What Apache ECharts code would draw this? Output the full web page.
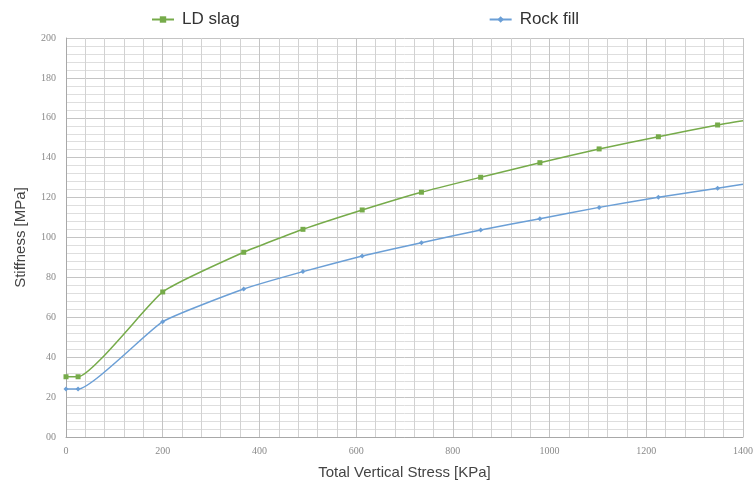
<!DOCTYPE html>
<html>
<head>
<meta charset="utf-8">
<script src="https://cdn.jsdelivr.net/npm/echarts@6/dist/echarts.min.js"></script>
<style>
  html, body { margin: 0; padding: 0; background: #fff; }
  #chart { width: 756px; height: 487px; }
</style>
</head>
<body>
<div id="chart"></div>
<script>
// stress values (KPa) where measurements were taken
const stress = [0, 25, 200, 367.5, 490, 612.5, 735, 857.5, 980, 1102.5, 1225, 1347.5, 1400];
const ldSlag = [30.2, 30.2, 72.7, 92.6, 104.1, 113.8, 122.7, 130.2, 137.5, 144.4, 150.5, 156.4, 158.5];
const rockFill = [24, 24, 57.8, 74.2, 82.9, 90.7, 97.4, 103.8, 109.4, 115.1, 120.2, 124.7, 126.7];
const seriesNames = ['LD slag', 'Rock fill'];

const GREEN = '#76ab4a';
const BLUE = '#6b9fd6';

// last point sits on the right edge, no marker there
const pairs = (ys) => stress.map((x, i) => i === stress.length - 1
  ? {value: [x, ys[i]], symbolSize: 0}
  : [x, ys[i]]);

const tickFont = {
  fontFamily: '"Liberation Serif", "DejaVu Serif", serif',
  fontSize: 10,
  color: '#8a8a8a',
};

const chart = echarts.init(document.getElementById('chart'));
chart.setOption({
  animation: false,
  legend: {
    top: 6,
    left: 146,
    itemGap: 249,
    itemWidth: 22,
    itemHeight: 8,
    textStyle: {
      fontFamily: 'Liberation Sans, Arial, sans-serif',
      fontSize: 17,
      color: '#333',
      padding: [0, 0, 0, 3],
    },
    data: seriesNames,
  },
  grid: {left: 66, right: 13, top: 38, bottom: 50},
  xAxis: {
    type: 'value',
    min: 0,
    max: 1400,
    interval: 200,
    name: 'Total Vertical Stress [KPa]',
    nameLocation: 'middle',
    nameGap: 28,
    nameTextStyle: {fontFamily: 'Liberation Sans, Arial, sans-serif', fontSize: 15, color: '#444'},
    axisLine: {show: true, lineStyle: {color: '#a8a8a8'}},
    axisTick: {show: false},
    axisLabel: Object.assign({margin: 9, formatter: (v) => String(v)}, tickFont),
    splitLine: {show: true, lineStyle: {color: '#c4c4c4', width: 1}},
    minorTick: {show: false, splitNumber: 5},
    minorSplitLine: {show: true, lineStyle: {color: '#d2d2d2', width: 1}},
  },
  yAxis: {
    type: 'value',
    min: 0,
    max: 200,
    interval: 20,
    name: 'Stiffness [MPa]',
    nameLocation: 'middle',
    nameGap: 38,
    nameTextStyle: {fontFamily: 'Liberation Sans, Arial, sans-serif', fontSize: 15, color: '#444'},
    axisLine: {show: true, lineStyle: {color: '#a8a8a8'}},
    axisTick: {show: false},
    axisLabel: Object.assign({
      margin: 10,
      formatter: (v) => (v === 0 ? '00' : String(v)),
    }, tickFont),
    splitLine: {show: true, lineStyle: {color: '#c4c4c4', width: 1}},
    minorTick: {show: false, splitNumber: 5},
    minorSplitLine: {show: true, lineStyle: {color: '#dedede', width: 1}},
  },
  series: [
    {
      name: seriesNames[0],
      type: 'line',
      smooth: 0.15,
      data: pairs(ldSlag),
      symbol: 'rect',
      symbolSize: 5,
      lineStyle: {color: GREEN, width: 1.5},
      itemStyle: {color: GREEN},
    },
    {
      name: seriesNames[1],
      type: 'line',
      smooth: 0.15,
      data: pairs(rockFill),
      symbol: 'diamond',
      symbolSize: 5,
      lineStyle: {color: BLUE, width: 1.5},
      itemStyle: {color: BLUE},
    },
  ],
});
</script>
</body>
</html>
